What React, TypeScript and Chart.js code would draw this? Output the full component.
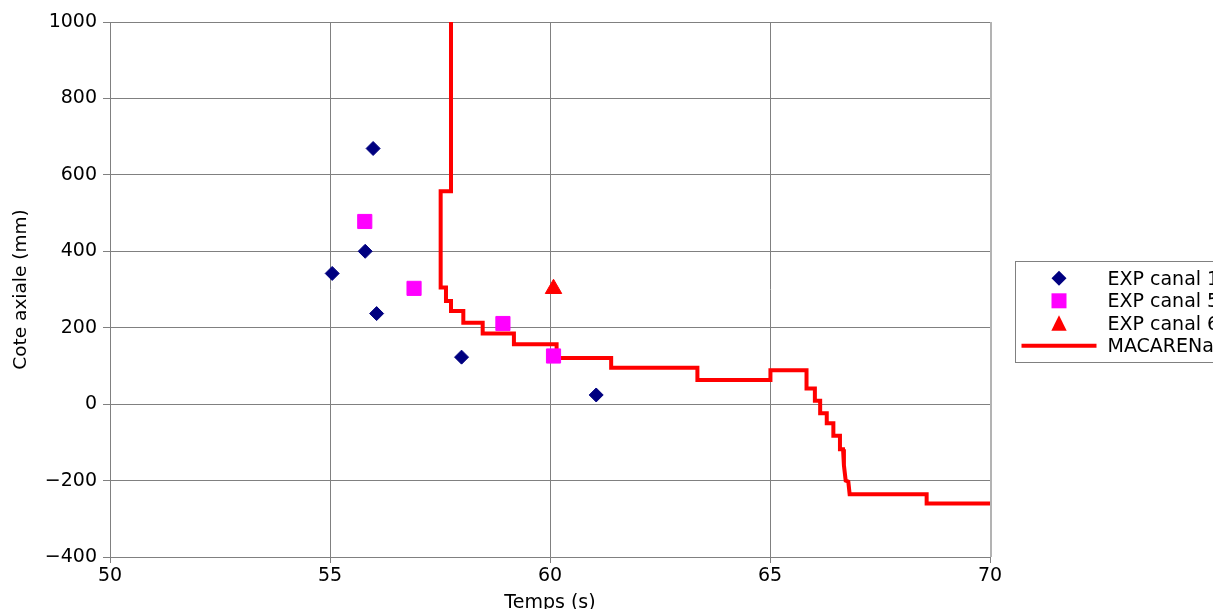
import React, { useEffect, useRef } from 'react';
import { Chart, registerables } from 'chart.js';

Chart.register(...registerables);

// ---- data ----
const canal1Temps = [55.05, 55.98, 55.8, 56.06, 57.99, 61.05];
const canal1Cote = [342, 669, 400, 237, 123, 24];

const canal5Temps = [55.79, 56.91, 58.93, 60.08];
const canal5Cote = [478, 303, 211, 126];

const canal6Temps = [60.08];
const canal6Cote = [302];

const macarenaTemps = [
  57.75, 57.75, 57.515, 57.515, 57.636, 57.636, 57.75, 57.75, 58.03, 58.03,
  58.47, 58.47, 59.18, 59.18, 60.15, 60.15, 61.39, 61.39, 63.35, 63.35,
  65.01, 65.01, 65.83, 65.83, 66.02, 66.02, 66.14, 66.14, 66.29, 66.29,
  66.44, 66.44, 66.59, 66.59, 66.66, 66.68, 66.72, 66.78, 66.81, 68.56,
  68.56, 70,
];
const macarenaCote = [
  1000, 557, 557, 305, 305, 270, 270, 244, 244, 213,
  213, 185, 185, 157, 157, 121, 121, 95, 95, 63,
  63, 89, 89, 41, 41, 9, 9, -24, -24, -50,
  -50, -83, -83, -118, -118, -160, -200, -203, -236, -236,
  -260, -260,
];

const xTickValues = [50, 55, 60, 65, 70];
const yTickValues = [-400, -200, 0, 200, 400, 600, 800, 1000];

const seriesLabels = ['EXP canal 1', 'EXP canal 5', 'EXP canal 6', 'MACARENa'];

const toPoints = (xs: number[], ys: number[]) => xs.map((x, i) => ({ x, y: ys[i] }));

const FONT = '"DejaVu Sans", sans-serif';

const frameAndLegendPlugin = {
  id: 'frameAndLegend',
  afterDraw(chart: any) {
    const { ctx, chartArea } = chart;
    ctx.save();
    // right edge of the plot frame
    ctx.strokeStyle = '#b3b3b3';
    ctx.lineWidth = 2;
    ctx.beginPath();
    ctx.moveTo(chartArea.right + 1, chartArea.top);
    ctx.lineTo(chartArea.right + 1, chartArea.bottom);
    ctx.stroke();

    // legend box
    const boxLeft = chartArea.right + 25.5;
    const boxTop = 261.5;
    ctx.strokeStyle = '#808080';
    ctx.lineWidth = 1;
    ctx.strokeRect(boxLeft, boxTop, 400, 101);

    const cx = boxLeft + 43.5;
    const textX = boxLeft + 92;
    chart.data.datasets.forEach((ds: any, i: number) => {
      const cy = 278.3 + i * 22.5;
      ctx.fillStyle = ds.backgroundColor;
      ctx.strokeStyle = ds.borderColor;
      ctx.lineWidth = 1;
      ctx.beginPath();
      if (ds.showLine) {
        ctx.lineWidth = 4;
        ctx.moveTo(boxLeft + 6, cy);
        ctx.lineTo(boxLeft + 81, cy);
        ctx.stroke();
      } else if (ds.pointStyle === 'rectRot') {
        ctx.moveTo(cx, cy - 7.5);
        ctx.lineTo(cx + 7.5, cy);
        ctx.lineTo(cx, cy + 7.5);
        ctx.lineTo(cx - 7.5, cy);
        ctx.closePath();
        ctx.fill();
      } else if (ds.pointStyle === 'rect') {
        ctx.rect(cx - 7.5, cy - 7.5, 15, 15);
        ctx.fill();
      } else if (ds.pointStyle === 'triangle') {
        ctx.moveTo(cx, cy - 8);
        ctx.lineTo(cx + 7.7, cy + 7.5);
        ctx.lineTo(cx - 7.7, cy + 7.5);
        ctx.closePath();
        ctx.fill();
      }
      ctx.fillStyle = '#000000';
      ctx.font = '19px ' + FONT;
      ctx.textAlign = 'left';
      ctx.textBaseline = 'middle';
      ctx.fillText(ds.label, textX, cy + 1.3);
    });
    ctx.restore();
  },
};

export default function App() {
  const canvasRef = useRef<HTMLCanvasElement | null>(null);

  useEffect(() => {
    if (!canvasRef.current) return;
    const chart = new Chart(canvasRef.current, {
      type: 'scatter',
      data: {
        datasets: [
          {
            label: seriesLabels[0],
            data: toPoints(canal1Temps, canal1Cote),
            pointStyle: 'rectRot',
            pointRadius: 7,
            borderWidth: 1,
            backgroundColor: '#000080',
            borderColor: '#000080',
          },
          {
            label: seriesLabels[1],
            data: toPoints(canal5Temps, canal5Cote),
            pointStyle: 'rect',
            pointRadius: 10,
            borderWidth: 1,
            backgroundColor: '#ff00ff',
            borderColor: '#ff00ff',
          },
          {
            label: seriesLabels[2],
            data: toPoints(canal6Temps, canal6Cote),
            pointStyle: 'triangle',
            pointRadius: 9.5,
            borderWidth: 1,
            backgroundColor: '#ff0000',
            borderColor: '#ff0000',
          },
          {
            label: seriesLabels[3],
            data: toPoints(macarenaTemps, macarenaCote),
            showLine: true,
            pointRadius: 0,
            borderWidth: 4,
            borderColor: '#ff0000',
            backgroundColor: '#ff0000',
            fill: false,
          },
        ],
      },
      options: {
        animation: false,
        responsive: false,
        events: [],
        layout: { padding: { top: 22, right: 223, left: 0, bottom: 0 } },
        plugins: {
          legend: { display: false },
          tooltip: { enabled: false },
          title: { display: false },
        },
        scales: {
          x: {
            type: 'linear',
            min: 50,
            max: 70,
            afterBuildTicks: (s: any) => {
              s.ticks = xTickValues.map((v) => ({ value: v }));
            },
            afterFit: (s: any) => {
              s.height = 63;
            },
            ticks: {
              color: '#000000',
              font: { family: FONT, size: 19 },
              padding: 2,
              maxRotation: 0,
            },
            grid: { color: '#808080', lineWidth: 1, tickLength: 6, tickColor: '#808080' },
            border: { color: '#808080' },
            title: {
              display: true,
              text: 'Temps (s)',
              color: '#000000',
              font: { family: FONT, size: 19 },
              padding: { top: 0, bottom: 5.2 },
            },
          },
          y: {
            type: 'linear',
            min: -400,
            max: 1000,
            afterBuildTicks: (s: any) => {
              s.ticks = yTickValues.map((v) => ({ value: v }));
            },
            afterFit: (s: any) => {
              s.width = 110;
            },
            ticks: {
              color: '#000000',
              font: { family: FONT, size: 19 },
              padding: 6,
              callback: (v: any) => String(v).replace('-', '\u2212'),
            },
            grid: { color: '#808080', lineWidth: 1, tickLength: 7, tickColor: '#808080' },
            border: { color: '#808080' },
            title: {
              display: true,
              text: 'Cote axiale (mm)',
              color: '#000000',
              font: { family: FONT, size: 18.5 },
              padding: { top: 9.8, bottom: 0 },
            },
          },
        },
      },
      plugins: [frameAndLegendPlugin],
    } as any);
    return () => chart.destroy();
  }, []);

  return (
    <div style={{ position: 'fixed', left: 0, top: 0, width: 1213, height: 620, overflow: 'hidden', background: '#ffffff' }}>
      <canvas ref={canvasRef} width={1213} height={620} style={{ width: 1213, height: 620, display: 'block' }} />
    </div>
  );
}
